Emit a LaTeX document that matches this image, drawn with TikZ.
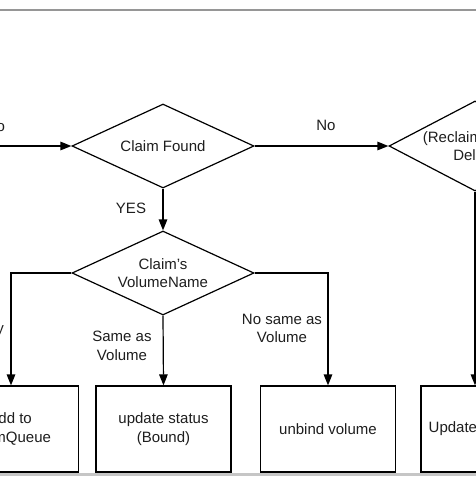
\documentclass[tikz,border=0pt]{standalone}
\usepackage{fontspec}
\setmainfont{Liberation Sans}
\usetikzlibrary{shapes.geometric,arrows.meta}
\definecolor{rulegray}{RGB}{150,150,150}
\definecolor{txt}{RGB}{30,30,30}
\begin{document}
\begin{tikzpicture}[x=1pt,y=-1pt,
  font=\fontsize{15}{18.5}\selectfont,
  every node/.style={text=txt},
  ln/.style={line width=1.2pt, draw=black},
  arr/.style={ln, -{Triangle[length=11pt,width=8.5pt]}},
  dec/.style={diamond, ln, inner sep=0pt, align=center, fill=white,
              aspect=2.17, minimum width=182pt, minimum height=84pt},
  box/.style={rectangle, ln, inner sep=0pt, align=center, fill=white,
              minimum width=135pt, minimum height=86pt},
  lbl/.style={inner sep=0pt, align=center}]
\useasboundingbox (0,0) rectangle (476,477);
\clip (0,0) rectangle (476,477);
\fill[white] (0,0) rectangle (476,477);
% frame lines
\draw[rulegray, line width=2pt] (0,10) -- (476,10);
\draw[gray!45, line width=2.5pt] (0,474.5) -- (476,474.5);
% decisions
\node[dec] (cf) at (163,146) {Claim Found};
\node[dec, aspect=1.91, minimum width=172pt, minimum height=90pt] (rp) at (475,146) {(ReclaimPolicy)\\Delete};
\node[dec] (vn) at (163,273) {Claim's\\VolumeName};
% actions
\node[box] (aq) at (11,429) {add to\\claimQueue};
\node[box] (us) at (163.5,429) {update status\\(Bound)};
\node[box] (ub) at (328,429) {unbind volume};
\node[box, minimum width=108pt] (up) at (475,429) {Update status};
% connectors
\coordinate (in) at (0,146);
\draw[arr] (in) -- (cf.west);
\draw[arr] (cf.east) -- (rp.west);
\draw[arr] (cf.south) -- (vn.north);
\draw[arr] (vn.west) -| (aq.north);
\draw[arr] (vn.south) -- (us.north);
\draw[arr] (vn.east) -| (ub.north);
\draw[arr] (rp.south) -- (up.north);
% labels
\node[lbl] (lnoin) at (-4.5,126) {No};
\node[lbl] (lno) at (326,125) {No};
\node[lbl] (lyes) at (131,208) {YES};
\node[lbl, anchor=east] (lempty) at (4,330) {Empty};
\node[lbl] (lsame) at (122,346) {Same as\\Volume};
\node[lbl] (lnsame) at (282,328.5) {No same as\\Volume};
\end{tikzpicture}
\end{document}
